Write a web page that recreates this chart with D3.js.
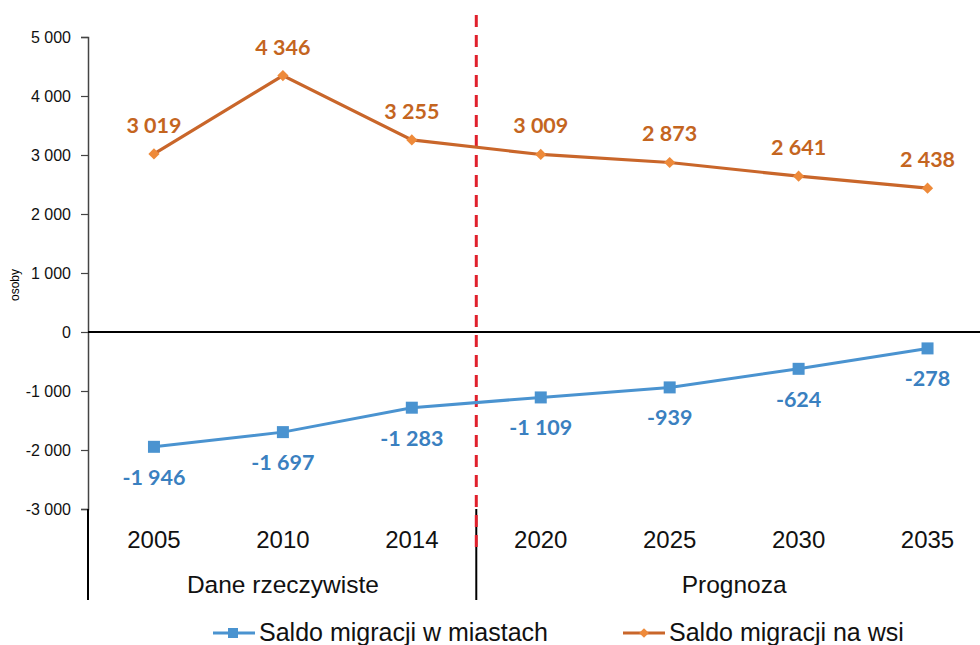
<!DOCTYPE html>
<html><head><meta charset="utf-8">
<script src="https://cdn.jsdelivr.net/npm/d3@7"></script>
<style>body{margin:0;background:#fff}svg{display:block}</style>
</head><body>
<script>
const years = ["2005","2010","2014","2020","2025","2030","2035"];
const miasta = [-1946,-1697,-1283,-1109,-939,-624,-278];
const wies = [3019,4346,3255,3009,2873,2641,2438];
const yTicks = [-3000,-2000,-1000,0,1000,2000,3000,4000,5000];
const groups = [{name:"Dane rzeczywiste", from:0, to:3},{name:"Prognoza", from:3, to:7}];
const seriesNames = ["Saldo migracji w miastach","Saldo migracji na wsi"];

const W=980,H=645;
const svg=d3.select("body").append("svg").attr("width",W).attr("height",H);
const mLeft=88, mRight=992, mTop=37, mBottom=509;
const x=d3.scaleBand().domain(years).range([mLeft+1.5,mRight]);
const y=d3.scaleLinear().domain([-3000,5000]).range([mBottom,mTop]);
const fmt=v=>{const s=Math.abs(v).toString().replace(/\B(?=(\d{3})+(?!\d))/g," ");return (v<0?"-":"")+s;};
const cx=d=>x(d)+x.bandwidth()/2;
const sans="Liberation Sans, Arial, sans-serif";

// y axis
const ya=svg.append("g").attr("transform",`translate(${mLeft},0)`)
 .call(d3.axisLeft(y).tickValues(yTicks).tickFormat(fmt).tickSize(7).tickPadding(10));
ya.select(".domain").attr("stroke","#444").attr("stroke-width",1.5);
ya.selectAll(".tick line").attr("stroke","#444").attr("stroke-width",1.2);
ya.selectAll("text").attr("font-family",sans).attr("font-size",16).attr("fill","#111");
svg.append("text").attr("transform","translate(19,285) rotate(-90)").attr("text-anchor","middle")
 .attr("font-family",sans).attr("font-size",12).text("osoby");

// zero line
svg.append("line").attr("x1",mLeft).attr("x2",mRight).attr("y1",y(0)).attr("y2",y(0)).attr("stroke","#000").attr("stroke-width",2);

// category axis: labels & group separators
svg.selectAll(".xl").data(years).join("text").attr("x",cx).attr("y",548).attr("text-anchor","middle")
 .attr("font-family",sans).attr("font-size",24).attr("fill","#111").text(d=>d);
const sepX=[mLeft, x(years[3]), mRight];
sepX.forEach(sx=>svg.append("line").attr("x1",sx).attr("x2",sx).attr("y1",mBottom).attr("y2",600).attr("stroke","#000").attr("stroke-width",2));
groups.forEach(g=>{
  const x0=x(years[g.from]), x1=g.to<years.length?x(years[g.to]):mRight;
  svg.append("text").attr("x",(x0+x1)/2).attr("y",593).attr("text-anchor","middle")
   .attr("font-family",sans).attr("font-size",24.5).attr("fill","#111").text(g.name);
});

// dashed divider
svg.append("line").attr("x1",x(years[3])).attr("x2",x(years[3])).attr("y1",15).attr("y2",549)
 .attr("stroke","#e0202c").attr("stroke-width",3).attr("stroke-dasharray","12,8");

const line=d3.line().x((d,i)=>cx(years[i])).y(d=>y(d));
const blue="#4a93d0", orange="#c9662a", orangeM="#ee8a3a";
// wies
svg.append("path").datum(wies).attr("d",line).attr("fill","none").attr("stroke",orange).attr("stroke-width",3.2);
svg.selectAll(".dw").data(wies).join("path").attr("transform",(d,i)=>`translate(${cx(years[i])},${y(d)})`)
 .attr("d",d3.symbol(d3.symbolDiamond2,80)()).attr("fill",orangeM);
svg.selectAll(".lw").data(wies).join("text").attr("x",(d,i)=>cx(years[i])).attr("y",d=>y(d)-21)
 .attr("text-anchor","middle").attr("font-family","Lato, Open Sans, sans-serif").attr("font-weight","bold")
 .attr("font-size",21.5).attr("fill","#c4651f").text(fmt);
// miasta
svg.append("path").datum(miasta).attr("d",line).attr("fill","none").attr("stroke",blue).attr("stroke-width",3);
svg.selectAll(".sm").data(miasta).join("rect").attr("x",(d,i)=>cx(years[i])-6).attr("y",d=>y(d)-6)
 .attr("width",12).attr("height",12).attr("fill",blue);
svg.selectAll(".lm").data(miasta).join("text").attr("x",(d,i)=>cx(years[i])).attr("y",d=>y(d)+38)
 .attr("text-anchor","middle").attr("font-family","Lato, Open Sans, sans-serif").attr("font-weight","bold")
 .attr("font-size",21.5).attr("fill","#3a80c0").text(fmt);

// legend
const lg=svg.append("g");
const leg=[{x:213,c:blue,sym:"sq",t:seriesNames[0]},{x:623,c:orange,sym:"di",t:seriesNames[1]}];
leg.forEach(l=>{
  lg.append("line").attr("x1",l.x).attr("x2",l.x+42).attr("y1",633).attr("y2",633).attr("stroke",l.c).attr("stroke-width",3);
  if(l.sym==="sq") lg.append("rect").attr("x",l.x+15).attr("y",628).attr("width",10).attr("height",10).attr("fill",l.c);
  else lg.append("path").attr("transform",`translate(${l.x+21},633)`).attr("d",d3.symbol(d3.symbolDiamond2,60)()).attr("fill",orangeM);
  lg.append("text").attr("x",l.x+46).attr("y",641).attr("font-family",sans).attr("font-size",25).attr("fill","#111").text(l.t);
});
</script>
</body></html>
